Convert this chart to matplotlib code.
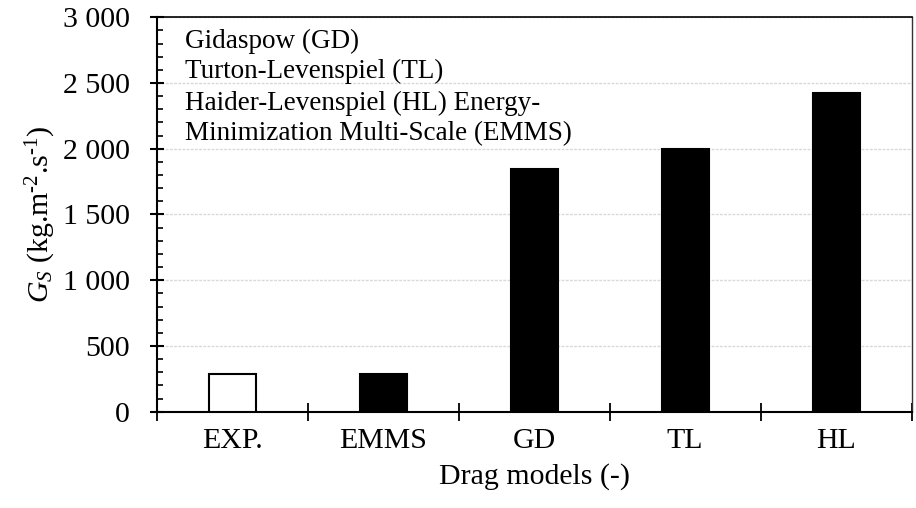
import matplotlib
matplotlib.use("Agg")
import matplotlib.pyplot as plt
from matplotlib.ticker import FixedLocator, MultipleLocator

plt.rcParams['font.family'] = ['Liberation Serif', 'DejaVu Serif']
plt.rcParams['mathtext.fontset'] = 'custom'
plt.rcParams['mathtext.rm'] = 'Liberation Serif'
plt.rcParams['mathtext.it'] = 'Liberation Serif:italic'

categories = ["EXP.", "EMMS", "GD", "TL", "HL"]
values = [285, 290, 1844, 2000, 2425]
face_colors = ["white", "black", "black", "black", "black"]
ytick_values = [0, 500, 1000, 1500, 2000, 2500, 3000]
ytick_labels = ["0", "500", "1 000", "1 500", "2 000", "2 500", "3 000"]
legend_lines = ["Gidaspow (GD)", "Turton-Levenspiel (TL)",
                "Haider-Levenspiel (HL) Energy-",
                "Minimization Multi-Scale (EMMS)"]

fig = plt.figure(figsize=(9.16, 5.08), dpi=100)
ax = fig.add_axes([0.171, 0.1896, 0.8243, 0.7764])

x = list(range(len(categories)))
ax.bar(x, values, width=0.31, color=face_colors, edgecolor="black",
       linewidth=1.5, zorder=3)

ax.set_xlim(-0.5, len(categories) - 0.5)
ax.set_ylim(0, 3000)

# y axis ticks
ax.yaxis.set_major_locator(FixedLocator(ytick_values))
ax.set_yticklabels(ytick_labels)
ax.yaxis.set_minor_locator(MultipleLocator(100))
ax.tick_params(axis='y', which='major', direction='inout', length=10,
               width=1.5, labelsize=21.5, pad=14)
ax.tick_params(axis='y', which='minor', direction='in', length=4.5, width=1.2)

# x axis: boundaries as major ticks, labels at centers
boundaries = [i - 0.5 for i in range(len(categories) + 1)]
ax.xaxis.set_major_locator(FixedLocator(boundaries))
ax.xaxis.set_major_formatter(plt.NullFormatter())
ax.set_xticks(x, minor=True)
ax.set_xticklabels(categories, minor=True)
ax.tick_params(axis='x', which='major', direction='inout', length=13,
               width=1.3)
ax.tick_params(axis='x', which='minor', length=0, labelsize=21.5, pad=12)

# grid
ax.grid(axis='y', which='major', color='#d9d9d9', linestyle=(0, (2, 1)),
        linewidth=1.0, zorder=0)
ax.set_axisbelow(True)

for s in ['left', 'bottom']:
    ax.spines[s].set_linewidth(1.5)
ax.spines['top'].set_linewidth(1.2)
ax.spines['right'].set_linewidth(1.0)
ax.spines['right'].set_color('#333333')

ax.set_xlabel("Drag models (-)", fontsize=21.5, labelpad=6)
ax.set_ylabel(r"$G_S$ (kg.m$^{\text{-}2}$.s$^{\text{-}1}$)", fontsize=21.5)
ax.yaxis.set_label_coords(-0.131, 0.5)

line_y = [0.9214, 0.8453, 0.765, 0.689]
for txt, yy in zip(legend_lines, line_y):
    ax.text(0.0375, yy, txt, transform=ax.transAxes, fontsize=19.5,
            va='baseline', ha='left', zorder=4)

fig.savefig("out.png", dpi=100)
